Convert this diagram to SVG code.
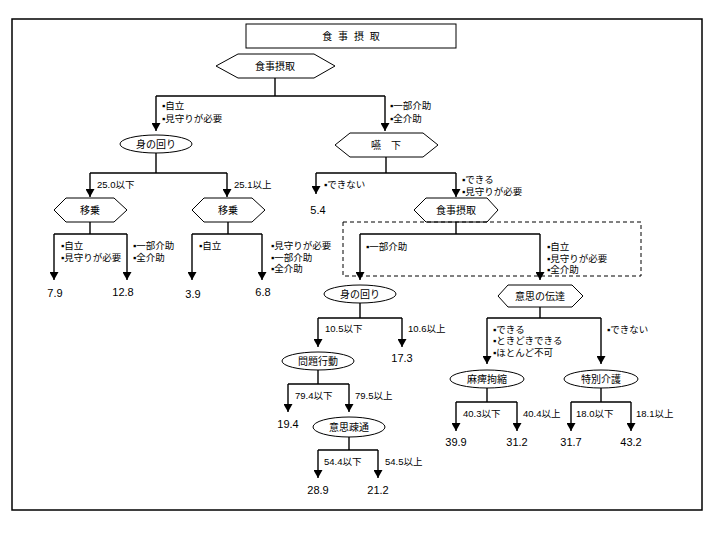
<svg xmlns="http://www.w3.org/2000/svg" width="720" height="540" viewBox="0 0 720 540">
<style>
text{font-family:"Liberation Sans","Noto Sans CJK JP",sans-serif;fill:#000}
.n{font-size:10px;text-anchor:middle}
.l{font-size:9.5px}
.v{font-size:11px;text-anchor:middle}
.s{fill:#fff;stroke:#000;stroke-width:1}
.c{fill:none;stroke:#000;stroke-width:1.4}
.a{fill:none;stroke:#000;stroke-width:1.4;marker-end:url(#ah)}
</style>
<defs>
<marker id="ah" markerUnits="userSpaceOnUse" markerWidth="9" markerHeight="9" refX="8" refY="4.5" orient="auto" viewBox="0 0 8 9">
<path d="M0,0 L8,4.5 L0,9 z" fill="#000"/>
</marker>
</defs>
<rect x="12" y="19" width="690" height="491" fill="#fff" stroke="#000" stroke-width="1.5"/>
<g id="title">
<rect x="246" y="24" width="210" height="24" class="s"/>
<text x="351" y="40" class="n" xml:space="preserve" style="word-spacing:3px">食 事 摂 取</text>
</g>
<g id="n_top">
<polygon points="216,66 238,54 314,54 335,66 314,78 238,78" class="s"/>
<text x="275" y="69.5" class="n">食事摂取</text>
</g>
<g id="n_mi1">
<ellipse cx="156" cy="144" rx="36" ry="9" class="s"/>
<text x="156" y="147.5" class="n">身の回り</text>
</g>
<g id="n_enka">
<polygon points="335,145 350,133 423,133 438,145 423,157 350,157" class="s"/>
<text x="386" y="148.5" class="n">嚥　下</text>
</g>
<g id="n_ijo1">
<polygon points="54,210 66,198 114,198 127,210 114,222 66,222" class="s"/>
<text x="90" y="213.5" class="n">移乗</text>
</g>
<g id="n_ijo2">
<polygon points="192,210 204,198 252,198 265,210 252,222 204,222" class="s"/>
<text x="228" y="213.5" class="n">移乗</text>
</g>
<g id="n_shoku2">
<polygon points="414,210 426,198 487,198 498,210 487,222 426,222" class="s"/>
<text x="456" y="213.5" class="n">食事摂取</text>
</g>
<g id="n_mi2">
<ellipse cx="360" cy="294" rx="36" ry="9" class="s"/>
<text x="360" y="297.5" class="n">身の回り</text>
</g>
<g id="n_ishi">
<polygon points="498,296 508,285 572,285 583,296 572,307 508,307" class="s"/>
<text x="540" y="299.5" class="n">意思の伝達</text>
</g>
<g id="n_mondai">
<ellipse cx="318" cy="361" rx="36" ry="9" class="s"/>
<text x="318" y="364.5" class="n">問題行動</text>
</g>
<g id="n_sotsu">
<ellipse cx="349" cy="427" rx="36" ry="10" class="s"/>
<text x="349" y="430.5" class="n">意思疎通</text>
</g>
<g id="n_mahi">
<ellipse cx="487" cy="379" rx="37" ry="9" class="s"/>
<text x="487" y="382.5" class="n">麻痺拘縮</text>
</g>
<g id="n_tokubetsu">
<ellipse cx="601" cy="379" rx="37" ry="9" class="s"/>
<text x="601" y="382.5" class="n">特別介護</text>
</g>
<g id="connectors">
<path class="c" d="M275,78 V96 M156,96 H385"/>
<path class="a" d="M156,96 V131"/>
<path class="a" d="M385,96 V131"/>
<path class="c" d="M156,153 V173 M90,173 H227"/>
<path class="a" d="M90,173 V197"/>
<path class="a" d="M227,173 V197"/>
<path class="c" d="M90,222 V234 M54,234 H127"/>
<path class="a" d="M54,234 V280"/>
<path class="a" d="M127,234 V280"/>
<path class="c" d="M228,222 V234 M192,234 H262"/>
<path class="a" d="M192,234 V280"/>
<path class="a" d="M262,234 V280"/>
<path class="c" d="M386,157 V173 M316,173 H456"/>
<path class="a" d="M316,173 V194"/>
<path class="a" d="M456,173 V197"/>
<rect x="343" y="222" width="298" height="54" fill="none" stroke="#000" stroke-width="1" stroke-dasharray="4,3"/>
<path class="c" d="M456,222 V234 M360,234 H540"/>
<path class="a" d="M360,234 V280"/>
<path class="a" d="M540,234 V280"/>
<path class="c" d="M360,303 V318 M318,318 H402"/>
<path class="a" d="M318,318 V347"/>
<path class="a" d="M402,318 V347"/>
<path class="c" d="M318,370 V384 M288,384 H349"/>
<path class="a" d="M288,384 V412"/>
<path class="a" d="M349,384 V412"/>
<path class="c" d="M349,437 V450 M318,450 H378"/>
<path class="a" d="M318,450 V478"/>
<path class="a" d="M378,450 V478"/>
<path class="c" d="M540,307 V318 M487,318 H601"/>
<path class="a" d="M487,318 V364"/>
<path class="a" d="M601,318 V364"/>
<path class="c" d="M487,388 V402 M456,402 H517"/>
<path class="a" d="M456,402 V431"/>
<path class="a" d="M517,402 V431"/>
<path class="c" d="M601,388 V402 M571,402 H631"/>
<path class="a" d="M571,402 V431"/>
<path class="a" d="M631,402 V431"/>
</g>
<g id="labels">
<text class="l" x="162" y="109">▪自立</text>
<text class="l" x="162" y="121.5">▪見守りが必要</text>
<text class="l" x="390" y="109">▪一部介助</text>
<text class="l" x="390" y="121.5">▪全介助</text>
<text class="l" x="97" y="187.5">25.0以下</text>
<text class="l" x="234" y="187.5">25.1以上</text>
<text class="l" x="61" y="248.5">▪自立</text>
<text class="l" x="61" y="260.5">▪見守りが必要</text>
<text class="l" x="133" y="248.5">▪一部介助</text>
<text class="l" x="133" y="260.5">▪全介助</text>
<text class="l" x="199" y="248.5">▪自立</text>
<text class="l" x="271" y="248.5">▪見守りが必要</text>
<text class="l" x="271" y="260.5">▪一部介助</text>
<text class="l" x="271" y="272">▪全介助</text>
<text class="l" x="324" y="187.5">▪できない</text>
<text class="l" x="462" y="182.5">▪できる</text>
<text class="l" x="462" y="194.5">▪見守りが必要</text>
<text class="l" x="366" y="249.5">▪一部介助</text>
<text class="l" x="547" y="249.5">▪自立</text>
<text class="l" x="547" y="261.5">▪見守りが必要</text>
<text class="l" x="547" y="273">▪全介助</text>
<text class="l" x="325" y="331.5">10.5以下</text>
<text class="l" x="408" y="331.5">10.6以上</text>
<text class="l" x="295" y="398.5">79.4以下</text>
<text class="l" x="355" y="398.5">79.5以上</text>
<text class="l" x="324" y="464.5">54.4以下</text>
<text class="l" x="385" y="464.5">54.5以上</text>
<text class="l" x="493" y="332.5">▪できる</text>
<text class="l" x="493" y="343.5">▪ときどきできる</text>
<text class="l" x="493" y="355.5">▪ほとんど不可</text>
<text class="l" x="607" y="332.5">▪できない</text>
<text class="l" x="463" y="416.5">40.3以下</text>
<text class="l" x="523" y="416.5">40.4以上</text>
<text class="l" x="576" y="416.5">18.0以下</text>
<text class="l" x="636" y="416.5">18.1以上</text>
</g>
<g id="values">
<text class="v" x="55" y="297">7.9</text>
<text class="v" x="123" y="296">12.8</text>
<text class="v" x="193" y="298">3.9</text>
<text class="v" x="263" y="296">6.8</text>
<text class="v" x="318" y="214">5.4</text>
<text class="v" x="402" y="362">17.3</text>
<text class="v" x="288" y="428">19.4</text>
<text class="v" x="318" y="494">28.9</text>
<text class="v" x="378" y="494">21.2</text>
<text class="v" x="456" y="446">39.9</text>
<text class="v" x="517" y="446">31.2</text>
<text class="v" x="571" y="446">31.7</text>
<text class="v" x="631" y="446">43.2</text>
</g>
</svg>
